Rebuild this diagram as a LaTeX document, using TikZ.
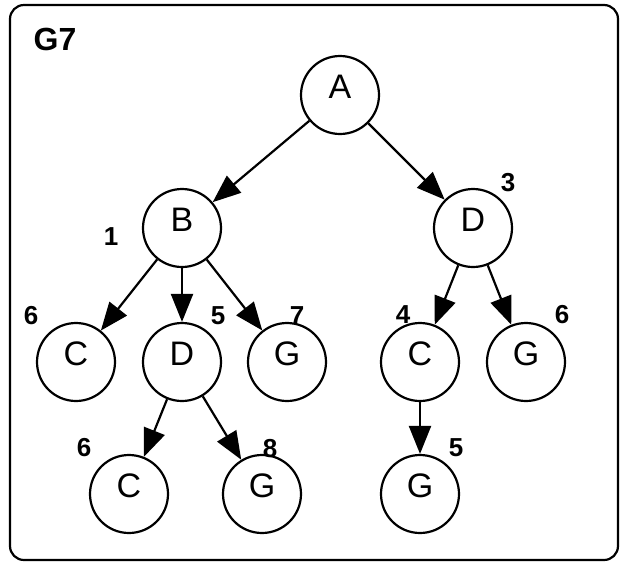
\documentclass[tikz,border=0pt]{standalone}
\usepackage{fontspec}
\setmainfont{Liberation Sans}
\usetikzlibrary{arrows.meta}
\begin{document}
\begin{tikzpicture}[x=1pt,y=-1pt,
  state/.style={circle, draw, line width=2.2pt, minimum size=78pt, inner sep=0pt,
    text height=24pt, text depth=18pt, font=\fontsize{34}{34}\selectfont},
  edge/.style={line width=2.2pt, -{Triangle[length=28pt,width=22pt]}},
  cost/.style={inner sep=0pt, font=\bfseries\fontsize{26}{26}\selectfont},
  frame/.style={line width=2.2pt, rounded corners=14pt}]
\useasboundingbox (0,0) rectangle (627,566);
\draw[frame] (10,5) rectangle (618,560);
\node[inner sep=0pt, font=\bfseries\fontsize{32}{32}\selectfont] (title) at (55,39) {G7};

% search tree nodes
\node[state] (A)  at (340,95)  {A};
\node[state] (B)  at (182,228) {B};
\node[state] (D)  at (473,228) {D};
\node[state] (C1) at (76,362)  {C};
\node[state] (D2) at (182,362) {D};
\node[state] (G1) at (287,362) {G};
\node[state] (C3) at (420,362) {C};
\node[state] (G3) at (526,362) {G};
\node[state] (C4) at (129,494) {C};
\node[state] (G4) at (262,494) {G};
\node[state] (G5) at (420,494) {G};

% edges
\draw[edge] (A) -- (B);
\draw[edge] (A) -- (D);
\draw[edge] (B) -- (C1);
\draw[edge] (B) -- (D2);
\draw[edge] (B) -- (G1);
\draw[edge] (D) -- (C3);
\draw[edge] (D) -- (G3);
\draw[edge] (D2) -- (C4);
\draw[edge] (D2) -- (G4);
\draw[edge] (C3) -- (G5);

% path costs
\node[cost] (kB)  at (111,237) {1};
\node[cost] (kD)  at (508,183) {3};
\node[cost] (kC1) at (31,316)  {6};
\node[cost] (kD2) at (218,316) {5};
\node[cost] (kG1) at (297,316) {7};
\node[cost] (kC3) at (403,315) {4};
\node[cost] (kG3) at (562,315) {6};
\node[cost] (kC4) at (84,448)  {6};
\node[cost] (kG4) at (270,449) {8};
\node[cost] (kG5) at (456,448) {5};
\end{tikzpicture}
\end{document}
